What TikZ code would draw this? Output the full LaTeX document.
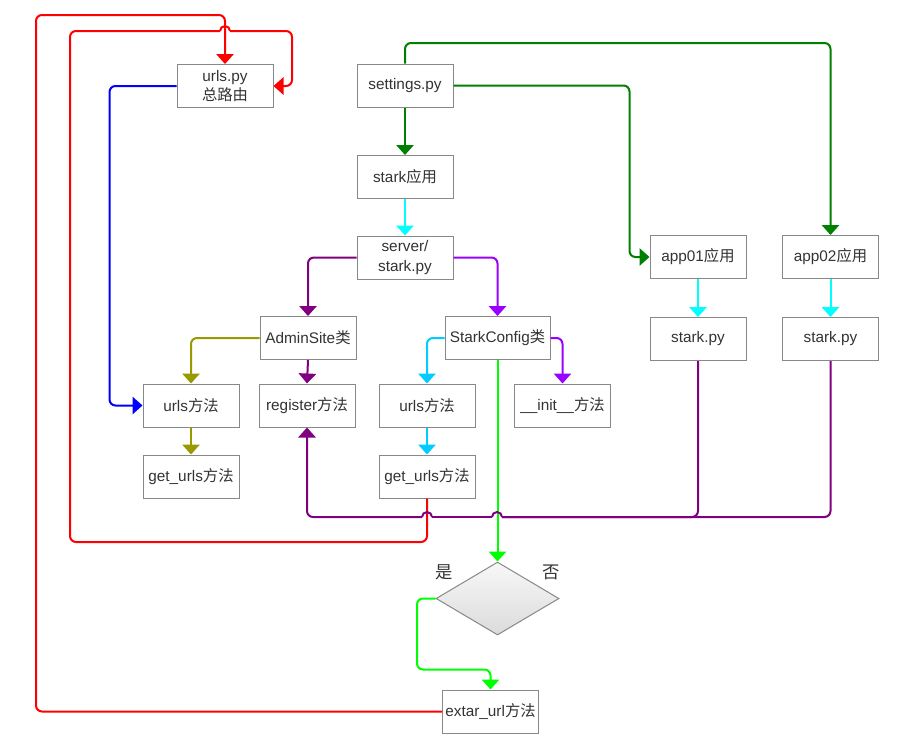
\documentclass[tikz,border=0pt]{standalone}
\usepackage{fontspec}
\setmainfont{Liberation Sans}
\newfontfamily\cjk{Noto Sans CJK SC}
\usetikzlibrary{arrows.meta,shapes.geometric,calc}
\definecolor{boxgray}{RGB}{136,136,136}
\definecolor{txt}{RGB}{51,51,51}
\definecolor{dgreen}{RGB}{0,128,0}
\definecolor{cyanc}{RGB}{0,255,255}
\definecolor{purp}{RGB}{128,0,128}
\definecolor{viol}{RGB}{153,0,255}
\definecolor{olive2}{RGB}{153,153,0}
\definecolor{skyb}{RGB}{0,204,255}
\definecolor{lime2}{RGB}{0,255,0}
\begin{document}
\begin{tikzpicture}[x=0.75pt,y=-0.75pt,
  box/.style={draw=boxgray, fill=white, line width=0.75pt, minimum width=72pt,
    minimum height=32.25pt, inner sep=1pt, align=center, text=txt,
    font=\fontsize{11.5}{14.5}\selectfont},
  conn/.style={line width=1.5pt, rounded corners=4.5pt, -{Triangle[width=13pt,length=7.5pt]}},
  plainc/.style={line width=1.5pt, rounded corners=4.5pt},
  hop/.style={line width=1.5pt},
  lbl/.style={text=txt, font=\fontsize{13}{15}\selectfont\cjk, inner sep=0pt}
]
\useasboundingbox (0,0) rectangle (912,743);

% nodes
\node[box] (urls) at (225,86) {urls.py\\{\cjk 总路由}};
\node[box] (set) at (405,85.5) {settings.py};
\node[box] (stark) at (405,177) {stark{\cjk 应用}};
\node[box] (srv) at (405,257.5) {server/\\stark.py};
\node[box] (admin) at (308,338) {AdminSite{\cjk 类}};
\node[box, minimum width=78.75pt] (sc) at (497.5,338) {StarkConfig{\cjk 类}};
\node[box] (app1) at (698,257) {app01{\cjk 应用}};
\node[box] (app2) at (830.5,257) {app02{\cjk 应用}};
\node[box] (app1s) at (698,339) {stark.py};
\node[box] (app2s) at (830.5,339) {stark.py};
\node[box] (um1) at (191,405.5) {urls{\cjk 方法}};
\node[box] (gu1) at (191,476.5) {get\_urls{\cjk 方法}};
\node[box] (reg) at (307,405.5) {register{\cjk 方法}};
\node[box] (um2) at (427,405.5) {urls{\cjk 方法}};
\node[box] (gu2) at (427,476.5) {get\_urls{\cjk 方法}};
\node[box] (init) at (562.5,405.5) {\_\_init\_\_{\cjk 方法}};
\node[diamond, draw=boxgray, line width=0.75pt, top color=white!97!black,
  bottom color=white!86!black, aspect=1.68, inner sep=0pt,
  minimum width=92.25pt, minimum height=54.75pt] (dia) at (497.5,598.5) {};
\node[box] (ext) at (490.5,711.5) {extar\_url{\cjk 方法}};
\node[lbl] (yes) at (444,572) {是};
\node[lbl] (no) at (551,572) {否};

% corner coordinates
\coordinate (r1a) at (36,711.5);
\coordinate (r1b) at (36,15);
\coordinate (r2a) at (427,542);
\coordinate (r2b) at (70,542);
\coordinate (r2c) at (70,31);
\coordinate (r2d) at (220,31);
\coordinate (r2d2) at (230,31);
\coordinate (r2e) at (292,31);
\coordinate (r2f) at (292,86);
\coordinate (pA) at (502,517);
\coordinate (pA2) at (492,517);
\coordinate (pB) at (432,517);
\coordinate (pB2) at (422,517);

% red connectors
\draw[conn, red] (ext.west) -- (r1a) -- (r1b) -| (urls.north);
\draw[plainc, red] (gu2.south) -- (r2a) -- (r2b) -- (r2c) -- (r2d);
\draw[hop, red] (r2d) arc[start angle=180, end angle=360, radius=5];
\draw[conn, red] (r2d2) -- (r2e) -- (r2f) -- (urls.east);

% blue
\draw[conn, blue] (urls.west) -| ($(um1.west)+(-33,0)$) -- (um1.west);

% greens
\draw[conn, dgreen] (set.south) -- (stark.north);
\draw[conn, dgreen] (set.north) |- ($(app2.north)+(0,-192)$) -- (app2.north);
\draw[conn, dgreen] (set.east) -| ($(app1.west)+(-20,0)$) -- (app1.west);

% cyan
\draw[conn, cyanc] (stark.south) -- (srv.north);
\draw[conn, cyanc] (app1.south) -- (app1s.north);
\draw[conn, cyanc] (app2.south) -- (app2s.north);

% purple / violet
\draw[conn, purp] (srv.west) -| (admin.north);
\draw[conn, viol] (srv.east) -| (sc.north);
\draw[conn, purp] (admin.south) -- (reg.north);
\draw[conn, viol] (sc.east) -| (init.north);

% olive
\draw[conn, olive2] (admin.west) -| (um1.north);
\draw[conn, olive2] (um1.south) -- (gu1.north);

% sky blue
\draw[conn, skyb] (sc.west) -| (um2.north);
\draw[conn, skyb] (um2.south) -- (gu2.north);

% lime
\draw[conn, lime2] (sc.south) -- (dia.north);
\draw[conn, lime2] (dia.west) -| ($(ext.north)+(-73.5,-20)$) -| (ext.north);

% purple bottom bus
\draw[plainc, purp] (app1s.south) |- (pA);
\draw[plainc, purp] (app2s.south) |- (pA);
\draw[hop, purp] (pA) arc[start angle=0, end angle=-180, radius=5];
\draw[hop, purp] (pA2) -- (pB);
\draw[hop, purp] (pB) arc[start angle=0, end angle=-180, radius=5];
\draw[conn, purp] (pB2) -| (reg.south);
\end{tikzpicture}
\end{document}
